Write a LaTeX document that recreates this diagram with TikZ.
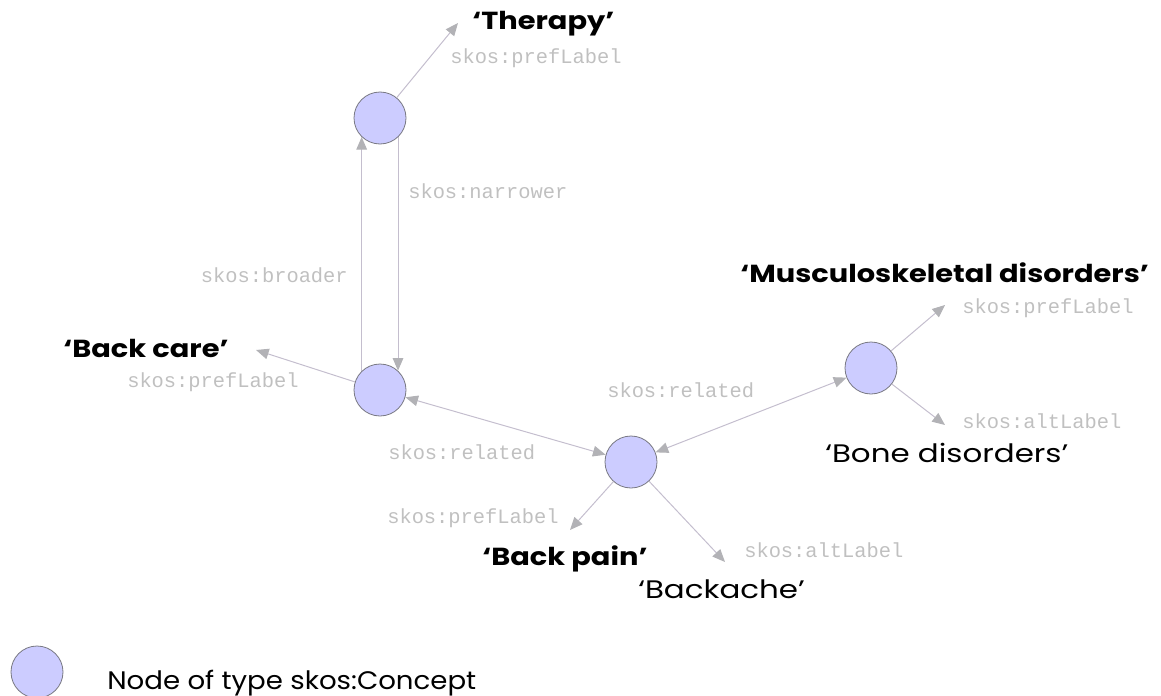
\documentclass[tikz,border=0pt]{standalone}
\usepackage{fontspec}
\setmainfont{Poppins}
\newfontfamily\monofont{Liberation Mono}
\newfontfamily\labelfont[FakeStretch=1.17]{Poppins}
\newfontfamily\litfont[FakeStretch=1.22]{Poppins}
\newfontfamily\legendfont[FakeStretch=1.09]{Poppins}
\usetikzlibrary{arrows.meta}
\definecolor{conceptfill}{RGB}{204,204,255}
\definecolor{conceptline}{RGB}{120,120,130}
\definecolor{edgeline}{RGB}{196,190,206}
\definecolor{tipfill}{RGB}{178,178,182}
\definecolor{proptext}{RGB}{192,192,192}
\tikzset{
  concept/.style={circle, fill=conceptfill, draw=conceptline, line width=0.6pt,
    minimum size=39pt, inner sep=0pt},
  tiphead/.tip={Triangle[length=9.5pt,width=8pt,color=tipfill,fill=tipfill]},
  rel/.style={draw=edgeline, line width=0.75pt, -tiphead},
  birel/.style={rel, tiphead-tiphead},
  prop/.style={anchor=base west, inner sep=0pt, text=proptext,
    font=\monofont\fontsize{15.3pt}{16pt}\selectfont},
  proprt/.style={prop, anchor=base east},
  preflbl/.style={anchor=base west, inner sep=0pt,
    font=\labelfont\bfseries\fontsize{18.5pt}{19pt}\selectfont},
  altlbl/.style={anchor=base west, inner sep=0pt,
    font=\litfont\fontsize{19pt}{20pt}\selectfont},
  legendlbl/.style={anchor=base west, inner sep=0pt,
    font=\legendfont\fontsize{19pt}{20pt}\selectfont},
}
\begin{document}
\begin{tikzpicture}[x=0.75pt, y=-0.75pt]
\useasboundingbox (0,0) rectangle (1161,696);

% concepts
\node[concept] (therapy) at (380,118) {};
\node[concept] (backcare) at (380,390) {};
\node[concept] (backpain) at (631,462) {};
\node[concept] (musculo) at (871,368) {};
\node[concept] (legend) at (37,672) {};

% arrow ends pointing at the literal labels
\coordinate (tTherapy) at (458,23);
\coordinate (tBackcare) at (256,350);
\coordinate (tMusPref) at (945,305);
\coordinate (tMusAlt) at (945,425);
\coordinate (tPainPref) at (570,530);
\coordinate (tPainAlt) at (725,562);

% literal labels
\node[preflbl] (lTherapy) at (472,29) {‘Therapy’};
\node[preflbl] (lBackcare) at (63,357) {‘Back care’};
\node[preflbl] (lMusculo) at (740,282) {‘Musculoskeletal disorders’};
\node[preflbl] (lBackpain) at (482,565) {‘Back pain’};
\node[altlbl] (lBone) at (825,462) {‘Bone disorders’};
\node[altlbl] (lBackache) at (638,598) {‘Backache’};
\node[legendlbl] (lLegend) at (107,689) {Node of type skos:Concept};

% property names
\node[prop] (pTherapy) at (450,63) {skos:prefLabel};
\node[prop] (pNarrower) at (408,198) {skos:narrower};
\node[proprt] (pBroader) at (348,282) {skos:broader};
\node[prop] (pBackcare) at (127,387) {skos:prefLabel};
\node[prop] (pRelA) at (388,459) {skos:related};
\node[prop] (pRelB) at (607,397) {skos:related};
\node[prop] (pMusPref) at (962,313) {skos:prefLabel};
\node[prop] (pMusAlt) at (962,428) {skos:altLabel};
\node[prop] (pPainPref) at (387,523) {skos:prefLabel};
\node[prop] (pPainAlt) at (744,557) {skos:altLabel};

% relations between concepts
\draw[rel] (backcare.134) -- (therapy.226);
\draw[rel] (therapy.313) -- (backcare.47);
\draw[birel] (backcare) -- (backpain);
\draw[birel] (backpain) -- (musculo);

% label properties
\draw[rel] (therapy) -- (tTherapy);
\draw[rel] (backcare) -- (tBackcare);
\draw[rel] (musculo) -- (tMusPref);
\draw[rel] (musculo) -- (tMusAlt);
\draw[rel] (backpain) -- (tPainPref);
\draw[rel] (backpain) -- (tPainAlt);
\end{tikzpicture}
\end{document}
